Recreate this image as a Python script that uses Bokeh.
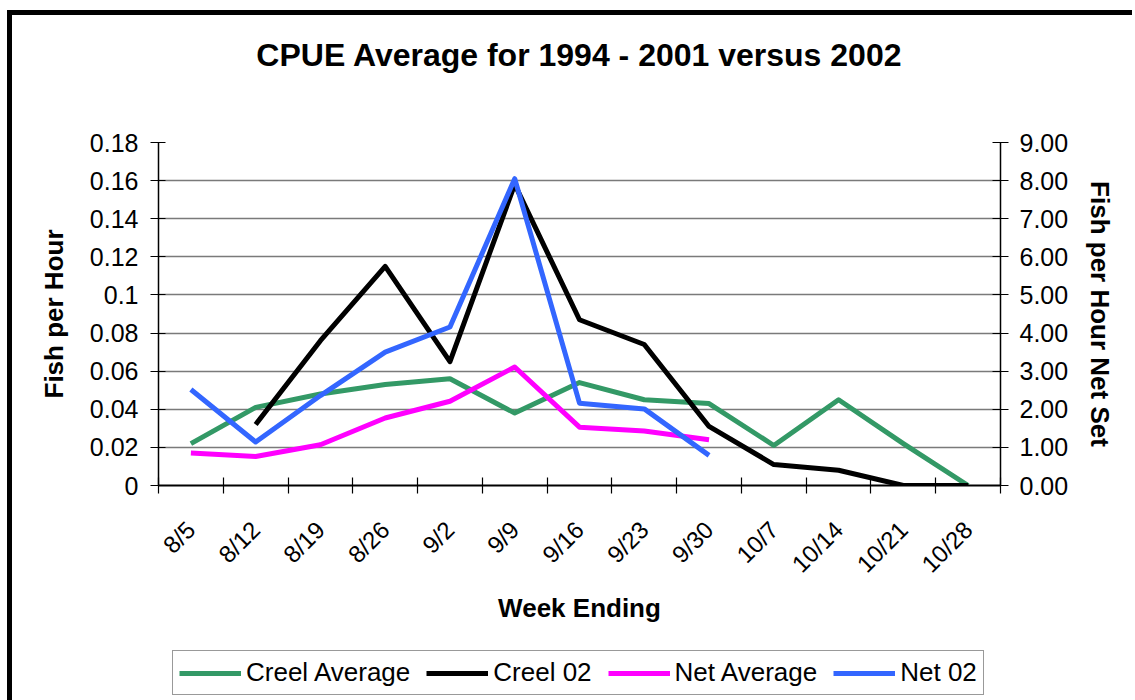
import math
from bokeh.plotting import figure
from bokeh.layouts import column
from bokeh.models import (Range1d, LinearAxis, FixedTicker, NumeralTickFormatter,
                          Legend, LegendItem, Title, ColumnDataSource)
from bokeh.embed import file_html
from bokeh.resources import INLINE

nan = float("nan")

# ---- data ----
weeks = ["8/5", "8/12", "8/19", "8/26", "9/2", "9/9", "9/16", "9/23", "9/30",
         "10/7", "10/14", "10/21", "10/28"]
creel_average = [0.022, 0.041, 0.048, 0.053, 0.056, 0.038, 0.054, 0.045, 0.043,
                 0.021, 0.045, 0.022, 0.0]
creel_02 = [nan, 0.032, 0.076, 0.115, 0.065, 0.158, 0.087, 0.074, 0.031,
            0.011, 0.008, 0.0, 0.0]
net_average = [0.85, 0.76, 1.07, 1.77, 2.21, 3.11, 1.53, 1.43, 1.20,
               nan, nan, nan, nan]
net_02 = [2.52, 1.14, 2.36, 3.50, 4.16, 8.05, 2.16, 2.01, 0.79,
          nan, nan, nan, nan]
left_ticks = [0.0, 0.02, 0.04, 0.06, 0.08, 0.10, 0.12, 0.14, 0.16, 0.18]
right_ticks = [0, 1, 2, 3, 4, 5, 6, 7, 8, 9]
series_names = ["Creel Average", "Creel 02", "Net Average", "Net 02"]
series_cols = ["ca", "c02", "na", "n02"]
series_colors = ["#339966", "black", "#FF00FF", "#3366FF"]

FONT = "Liberation Sans"
LW = 5
xpos = list(range(1, len(weeks) + 1))

src = ColumnDataSource(dict(x=xpos, ca=creel_average, c02=creel_02,
                            na=net_average, n02=net_02))

p = figure(width=1120, height=625, output_backend="svg", toolbar_location=None,
           x_range=Range1d(0.5, len(weeks) + 0.5), y_range=Range1d(0, 0.18),
           min_border_left=146, min_border_right=132, min_border_top=127,
           min_border_bottom=155)
p.title.text = ""
p.title.standoff = 0
p.outline_line_color = None
p.background_fill_color = "white"
p.border_fill_color = "white"
p.xgrid.visible = False
p.ygrid.grid_line_color = "#7a7a7a"
p.ygrid.grid_line_width = 1.5
p.ygrid.ticker = FixedTicker(ticks=left_ticks)

p.extra_y_ranges = {"net": Range1d(0, 9)}

# x axis
xa = p.xaxis[0]
xa.ticker = FixedTicker(ticks=xpos, minor_ticks=[i + 0.5 for i in range(0, len(weeks) + 1)])
xa.major_label_overrides = {i: w for i, w in zip(xpos, weeks)}
xa.major_tick_in = 0
xa.major_tick_out = 0
xa.minor_tick_in = 8
xa.minor_tick_out = 8
xa.minor_tick_line_color = "black"
xa.minor_tick_line_width = 1.2
xa.axis_line_color = "black"
xa.axis_line_width = 2
xa.major_label_orientation = math.pi / 4
xa.major_label_standoff = 32
xa.major_label_text_font = FONT
xa.major_label_text_font_size = "24px"
xa.major_label_text_color = "black"
xa.axis_label = "Week Ending"
xa.axis_label_text_font = FONT
xa.axis_label_text_font_style = "bold"
xa.axis_label_text_font_size = "26px"
xa.axis_label_standoff = 3
xa.axis_label_text_color = "black"

# left axis
ya = p.yaxis[0]
ya.ticker = FixedTicker(ticks=left_ticks)
ya.formatter = NumeralTickFormatter(format="0.[00]")
ya.major_tick_in = 7
ya.major_tick_out = 8
ya.minor_tick_line_color = None
ya.major_tick_line_color = "black"
ya.axis_line_color = "black"
ya.axis_line_width = 1.5
ya.major_label_standoff = 12
ya.major_label_text_font = FONT
ya.major_label_text_font_size = "25px"
ya.major_label_text_color = "black"
ya.axis_label = "Fish per Hour"
ya.axis_label_text_font = FONT
ya.axis_label_text_font_style = "bold"
ya.axis_label_text_font_size = "26px"
ya.axis_label_standoff = 18
ya.axis_label_text_color = "black"

# right axis
ra = LinearAxis(y_range_name="net", ticker=FixedTicker(ticks=right_ticks),
                formatter=NumeralTickFormatter(format="0.00"))
ra.major_tick_in = 8
ra.major_tick_out = 8
ra.minor_tick_line_color = None
ra.major_tick_line_color = "black"
ra.axis_line_color = "black"
ra.axis_line_width = 1.5
ra.major_label_standoff = 11
ra.major_label_text_font = FONT
ra.major_label_text_font_size = "25px"
ra.major_label_text_color = "black"
ra.axis_label = "Fish per Hour Net Set"
ra.axis_label_text_font = FONT
ra.axis_label_text_font_style = "bold"
ra.axis_label_text_font_size = "26px"
ra.axis_label_standoff = 14
ra.axis_label_text_color = "black"
p.add_layout(ra, "right")

p.line("x", "ca", source=src, line_color=series_colors[0], line_width=LW, line_join="round")
p.line("x", "c02", source=src, line_color=series_colors[1], line_width=LW, line_join="round")
p.line("x", "na", source=src, y_range_name="net", line_color=series_colors[2],
       line_width=LW, line_join="round")
p.line("x", "n02", source=src, y_range_name="net", line_color=series_colors[3],
       line_width=LW, line_join="round")

# title: spacer next to the frame, then the title text above it
p.add_layout(Title(text=" ", text_font_size="10px", standoff=51), "above")
p.add_layout(Title(text="CPUE Average for 1994 - 2001 versus 2002", align="center",
                   vertical_align="middle", text_font=FONT, text_font_style="bold",
                   text_font_size="32px", text_color="black", standoff=10), "above")

# ---- legend strip (separate small figure below the chart; its frame is
# aligned with the chart's frame by the column layout) ----
lg = figure(width=1120, height=60, output_backend="svg", toolbar_location=None,
            x_range=Range1d(-3, -2), y_range=Range1d(0, 1),
            min_border_left=0, min_border_right=0, min_border_top=0, min_border_bottom=0)
lg.axis.visible = False
lg.grid.visible = False
lg.outline_line_color = None
lg.title.text = ""
lg.title.standoff = 0
items = []
for name, colname, color in zip(series_names, series_cols, series_colors):
    r = lg.line("x", colname, source=src, line_color=color, line_width=LW)
    items.append(LegendItem(label=name, renderers=[r]))
legend = Legend(items=items, orientation="horizontal", location=(14, 5))
legend.label_text_font = FONT
legend.label_text_font_size = "26px"
legend.label_text_color = "black"
legend.glyph_width = 62
legend.glyph_height = 28
legend.label_height = 28
legend.label_standoff = 5
legend.spacing = 16
legend.padding = 6
legend.margin = 0
legend.border_line_color = "#333333"
legend.border_line_width = 1.5
legend.background_fill_alpha = 1
lg.add_layout(legend, "center")

layout = column(p, lg, spacing=0)
layout.styles = {"border-left": "5px solid black", "border-top": "5px solid black",
                 "margin-left": "7px", "margin-top": "10px"}

open("out.html", "w").write(file_html(layout, INLINE))
